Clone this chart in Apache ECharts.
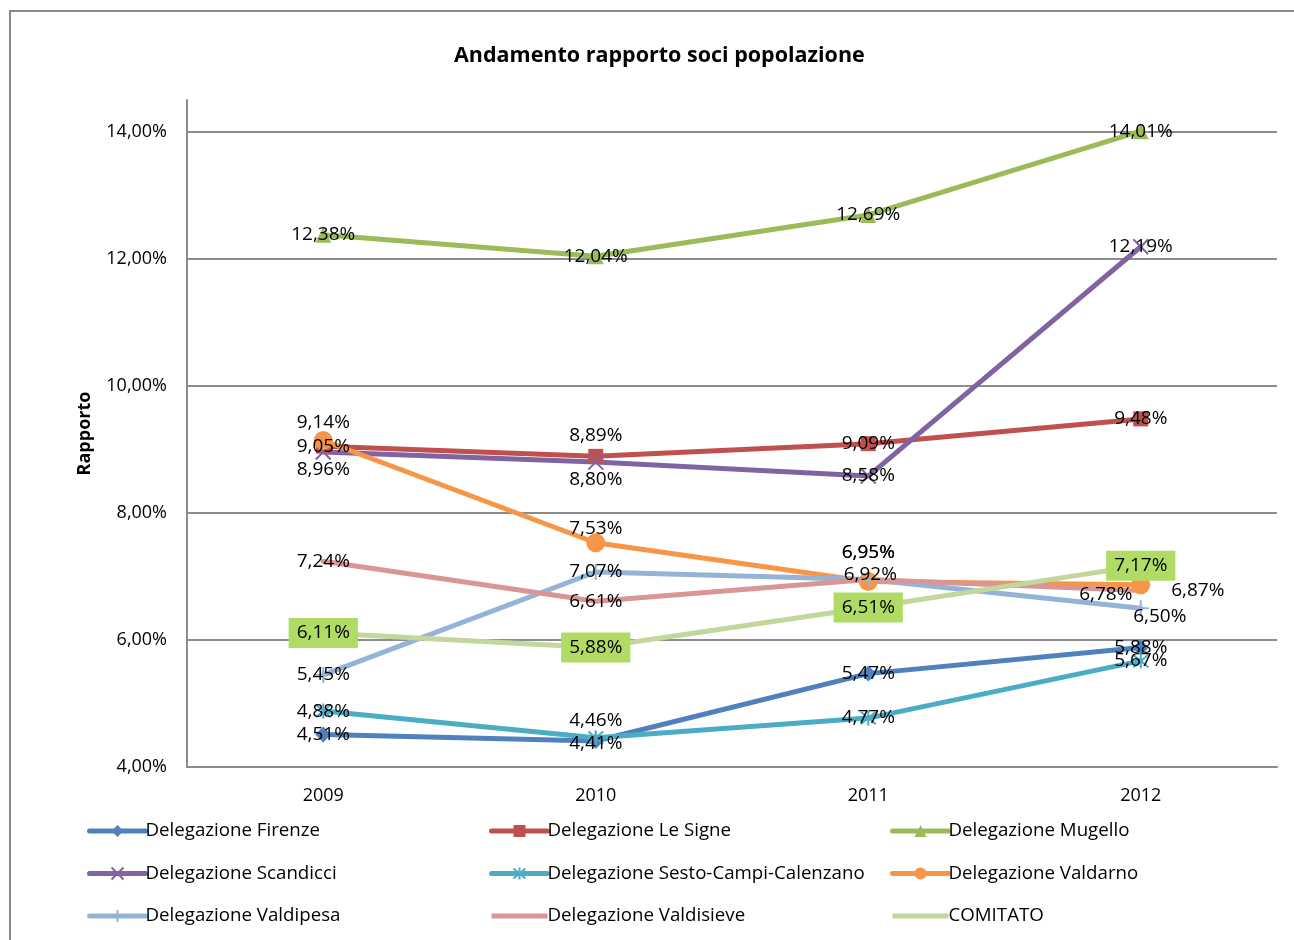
<!DOCTYPE html>
<html>
<head>
<meta charset="utf-8">
<script src="https://cdn.jsdelivr.net/npm/echarts@6/dist/echarts.min.js"></script>
<style>
html,body{margin:0;padding:0;background:#fff;}
#chart{width:1294px;height:940px;}
</style>
</head>
<body>
<div id="chart"></div>
<script>
// ---- data ----
const years = ['2009', '2010', '2011', '2012'];
const seriesNames = [
  'Delegazione Firenze', 'Delegazione Le Signe', 'Delegazione Mugello',
  'Delegazione Scandicci', 'Delegazione Sesto-Campi-Calenzano', 'Delegazione Valdarno',
  'Delegazione Valdipesa', 'Delegazione Valdisieve', 'COMITATO'
];
const firenze    = [4.51, 4.41, 5.47, 5.88];
const leSigne    = [9.05, 8.89, 9.09, 9.48];
const mugello    = [12.38, 12.04, 12.69, 14.01];
const scandicci  = [8.96, 8.80, 8.58, 12.19];
const sesto      = [4.88, 4.46, 4.77, 5.67];
const valdarno   = [9.14, 7.53, 6.92, 6.87];
const valdipesa  = [5.45, 7.07, 6.95, 6.50];
const valdisieve = [7.24, 6.61, 6.95, 6.78];
const comitato   = [6.11, 5.88, 6.51, 7.17];
const yTickMin = 4, yTickMax = 14, yTickStep = 2, yAxisTop = 14.5;

// ---- styling (kept apart from data) ----
const FONT = '"Open Sans", "Noto Sans", sans-serif';
const colors = ['#4f81bd', '#c0504d', '#9bbb59', '#8064a2', '#4bacc6', '#f79646', '#95b3d7', '#d99694', '#c3d69b'];
const symbols = [
  'diamond', 'rect', 'triangle',
  'path://M0,0L10,10M10,0L0,10',
  'path://M0,0L10,10M10,0L0,10M5,-1L5,11',
  'circle',
  'path://M5,0L5,10M0,5L10,5',
  'circle', 'circle'
];
const symbolSizes = [16, 15, 16, 15, 15, 19, 16, 1, 1];
const strokeSymbols = [false, false, false, true, true, false, true, false, false];
// label offsets [dx, dy] relative to each point
const labelOffsets = [
  [[0,0],[0,3],[0,0],[0,0]],
  [[0,0],[0,-21],[0,0],[0,0]],
  [[0,0],[0,0],[0,0],[0,0]],
  [[0,18],[0,18],[0,0],[0,0]],
  [[0,0],[0,-17],[0,0],[0,0]],
  [[0,-18],[0,-14],[2,-7],[57,6]],
  [[0,0],[0,0],[0,-27],[19,8]],
  [[0,0],[0,0],[0,-27],[-35,4]],
  [[0,0],[0,0],[0,0],[0,0]]
];
const allData = [firenze, leSigne, mugello, scandicci, sesto, valdarno, valdipesa, valdisieve, comitato];

function fmt(v) { return v.toFixed(2).replace('.', ',') + '%'; }

const series = allData.map((vals, si) => {
  const c = colors[si];
  const isCom = si === 8;
  return {
    name: seriesNames[si],
    type: 'line',
    color: c,
    symbol: symbols[si],
    symbolSize: symbolSizes[si],
    showAllSymbol: true,
    lineStyle: { width: 5, color: c, cap: 'round', join: 'round' },
    itemStyle: strokeSymbols[si]
      ? { color: c, borderColor: c, borderWidth: 2 }
      : { color: c, borderWidth: 0 },
    emphasis: { disabled: true },
    animation: false,
    data: vals.map((v, i) => ({
      value: v,
      label: { offset: labelOffsets[si][i] }
    })),
    label: {
      show: true,
      position: 'inside',
      formatter: p => fmt(p.value),
      color: '#000',
      fontSize: 19,
      fontFamily: FONT,
      backgroundColor: isCom ? '#b0dc66' : 'transparent',
      padding: isCom ? [6, 8, 5, 8] : 0
    },
    z: 2
  };
});

function legendFor(names, left) {
  return {
    orient: 'vertical',
    left: left,
    top: 821.5,
    padding: 0,
    itemWidth: 56,
    itemHeight: 15,
    itemGap: 23.5,
    selectedMode: false,
    lineStyle: { width: 5 },
    textStyle: { fontSize: 18.7, lineHeight: 15, fontFamily: FONT, color: '#000', padding: [0, 0, 0, -5] },
    data: names.map(n => {
      const idx = seriesNames.indexOf(n);
      if (idx >= 7) return { name: n, icon: 'path://M0,0L56,0L56,5L0,5Z' };
      return { name: n };
    })
  };
}

const chart = echarts.init(document.getElementById('chart'), null, { renderer: 'canvas' });
chart.setOption({
  backgroundColor: '#fff',
  animation: false,
  title: {
    text: 'Andamento rapporto soci popolazione',
    left: 454,
    top: 45,
    padding: 0,
    textStyle: { fontSize: 21.5, fontWeight: 'bold', fontFamily: FONT, color: '#000' }
  },
  grid: { left: 187, right: 17, top: 100, bottom: 173, containLabel: false },
  xAxis: {
    type: 'category',
    data: years,
    boundaryGap: true,
    axisLine: { lineStyle: { color: '#8c8c8c', width: 2 } },
    axisTick: { show: false },
    axisLabel: { fontSize: 18, fontFamily: FONT, color: '#000', margin: 20 },
    splitLine: { show: false }
  },
  yAxis: {
    type: 'value',
    min: yTickMin,
    max: yAxisTop,
    interval: yTickStep,
    name: 'Rapporto',
    nameLocation: 'middle',
    nameGap: 93,
    nameRotate: 90,
    nameTextStyle: { fontSize: 18, fontWeight: 'bold', fontFamily: FONT, color: '#000' },
    axisLine: { show: true, lineStyle: { color: '#8c8c8c', width: 2 } },
    axisTick: { show: false },
    axisLabel: {
      fontSize: 18, fontFamily: FONT, color: '#000', margin: 20,
      showMaxLabel: false,
      formatter: v => (v > yTickMax ? '' : fmt(v))
    },
    splitLine: { show: true, showMaxLine: false, showMinLine: false, lineStyle: { color: '#8c8c8c', width: 2 } }
  },
  legend: [
    legendFor([seriesNames[0], seriesNames[3], seriesNames[6]], 87),
    legendFor([seriesNames[1], seriesNames[4], seriesNames[7]], 489),
    legendFor([seriesNames[2], seriesNames[5], seriesNames[8]], 890)
  ],
  graphic: [{
    type: 'rect',
    shape: { x: 10, y: 11, width: 1400, height: 1000 },
    style: { fill: 'none', stroke: '#8a8a8a', lineWidth: 2 },
    silent: true,
    z: 0
  }],
  series: series
});
</script>
</body>
</html>
